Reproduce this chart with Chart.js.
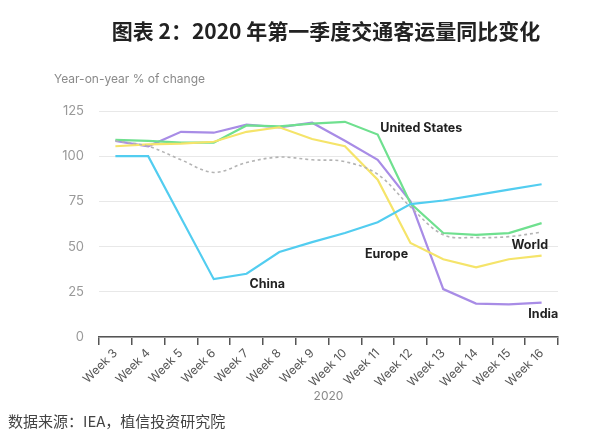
<!DOCTYPE html>
<html>
<head>
<meta charset="utf-8">
<script src="https://cdn.jsdelivr.net/npm/chart.js@4/dist/chart.umd.min.js"></script>
<style>
  html, body { margin: 0; padding: 0; background: #fff; }
  #wrap { width: 600px; height: 442px; position: relative; }
</style>
</head>
<body>
<div id="wrap"><canvas id="traffic"></canvas></div>
<script>
(function(){

    const weeks = ['Week 3','Week 4','Week 5','Week 6','Week 7','Week 8','Week 9',
                   'Week 10','Week 11','Week 12','Week 13','Week 14','Week 15','Week 16'];

    const china        = [100, 100, 66, 32, 35, 47, 52.5, 57.5, 63.5, 73.5, 75.5, 78.5, 81.5, 84.5];
    const unitedStates = [109, 108.5, 107.5, 107.5, 117, 116.5, 118, 119, 112, 74, 57.5, 56.5, 57.5, 63];
    const europe       = [105.5, 106.5, 107, 108, 113.5, 116, 109.5, 105.5, 87, 52, 43, 38.5, 43, 45];
    const india        = [108.5, 105.5, 113.5, 113, 117.5, 116, 118.5, 108.5, 98, 75, 26.5, 18.5, 18, 19];
    const world        = [108.5, 105.5, 98, 91, 96.5, 99.5, 98, 97, 90, 72, 56.5, 55, 55.5, 58];

    const yTicks = [0, 25, 50, 75, 100, 125];

    // series labels placed in data space (category index, value)
    const seriesNotes = [
        { text: 'United States', at: [9.33, 115.5] },
        { text: 'Europe',        at: [8.27, 46] },
        { text: 'World',         at: [12.64, 50.5] },
        { text: 'India',         at: [13.05, 12.8] },
        { text: 'China',         at: [4.63, 29.4] }
    ];

    const FONT = 'Inter, "Noto Sans", sans-serif';
    const CJK = '"Noto Sans CJK SC", sans-serif';

    const line = (data, color, extra) => Object.assign({
        data,
        borderColor: color,
        borderWidth: 2.2,
        pointRadius: 0,
        fill: false,
        tension: 0
    }, extra || {});

    const textPlugin = {
        id: 'texts',
        afterDatasetsDraw(chart) {
            const { ctx, chartArea, scales } = chart;
            ctx.save();

            ctx.fillStyle = '#222';
            ctx.font = 'bold 21px ' + CJK;
            ctx.textAlign = 'center';
            ctx.textBaseline = 'middle';
            ctx.fillText('图表 2：2020 年第一季度交通客运量同比变化', 326, 31);

            ctx.fillStyle = '#8a8a8a';
            ctx.font = '12px ' + FONT;
            ctx.textAlign = 'left';
            ctx.fillText('Year-on-year % of change', 54, 79);

            ctx.fillStyle = '#8a8a8a';
            ctx.font = '12px ' + FONT;
            ctx.textAlign = 'center';
            ctx.fillText('2020', (chartArea.left + chartArea.right) / 2, 396);

            ctx.fillStyle = '#444';
            ctx.font = '15px ' + CJK;
            ctx.textAlign = 'left';
            ctx.fillText('数据来源：IEA，植信投资研究院', 8, 421);

            ctx.fillStyle = '#222';
            ctx.font = 'bold 12.5px ' + FONT;
            ctx.textAlign = 'center';
            seriesNotes.forEach(n => {
                const x = scales.x.getPixelForValue(n.at[0]);
                const y = scales.y.getPixelForValue(n.at[1]);
                ctx.fillText(n.text, x, y);
            });

            ctx.restore();
        }
    };

    new Chart(document.getElementById('traffic'), {
        type: 'line',
        data: {
            labels: weeks,
            datasets: [
                line(world, '#b4b4b4', { borderDash: [3, 3], borderWidth: 1.6, tension: 0.35 }),
                line(china, '#52cdf0'),
                line(europe, '#f5e46a'),
                line(unitedStates, '#6fe08f'),
                line(india, '#a88ce6')
            ]
        },
        options: {
            responsive: true,
            maintainAspectRatio: false,
            animation: false,
            layout: { padding: { top: 111, right: 42, left: 0, bottom: 0 } },
            plugins: { legend: { display: false }, tooltip: { enabled: false } },
            scales: {
                x: {
                    offset: true,
                    grid: {
                        offset: true,
                        drawOnChartArea: false,
                        drawTicks: true,
                        tickLength: 8,
                        color: '#555',
                        lineWidth: 1.5
                    },
                    border: { display: true, color: '#555', width: 1.5 },
                    ticks: {
                        color: '#555',
                        font: { family: FONT, size: 12 },
                        minRotation: 45,
                        maxRotation: 45,
                        padding: 1,
                        autoSkip: false
                    },
                    afterFit(scale) { scale.height = 105; }
                },
                y: {
                    min: 0,
                    max: 125,
                    afterBuildTicks(scale) { scale.ticks = yTicks.map(v => ({ value: v })); },
                    grid: { color: '#e8e8e8', lineWidth: 1, drawTicks: false },
                    border: { display: false },
                    ticks: {
                        color: '#999',
                        font: { family: FONT, size: 13 },
                        padding: 15
                    },
                    afterFit(scale) { scale.width = 99; }
                }
            }
        },
        plugins: [textPlugin]
    });
})();
</script>
</body>
</html>
